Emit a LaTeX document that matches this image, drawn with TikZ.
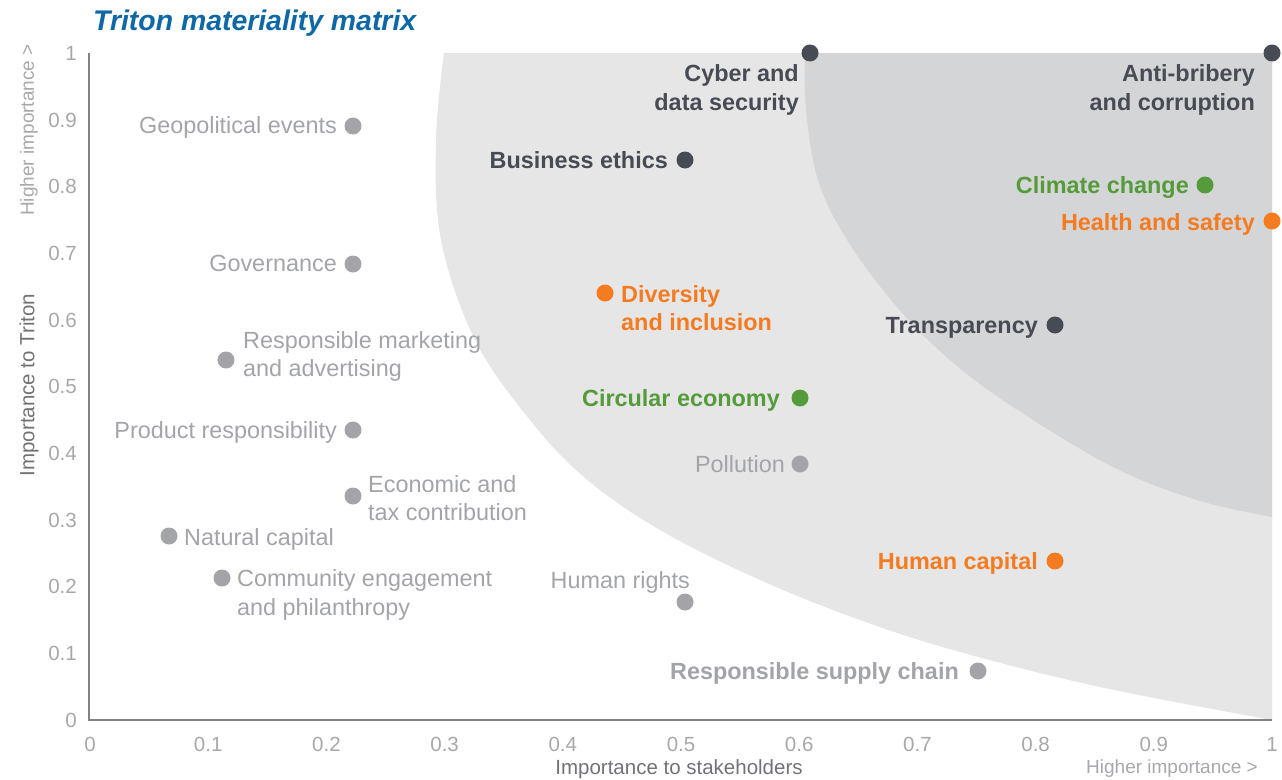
\documentclass[tikz,border=0pt]{standalone}
\usepackage{fontspec}
\setmainfont{Liberation Sans}
\definecolor{lightreg}{HTML}{E6E6E7}
\definecolor{darkreg}{HTML}{D4D5D7}
\definecolor{dk}{HTML}{474B54}
\definecolor{gr}{HTML}{A2A4A8}
\definecolor{org}{HTML}{F47B20}
\definecolor{grn}{HTML}{559B3B}
\definecolor{ttl}{HTML}{0D68A5}
\definecolor{axc}{HTML}{808286}
\definecolor{tickc}{HTML}{A6A8AB}
\definecolor{atc}{HTML}{707276}
\begin{document}
\begin{tikzpicture}[x=1pt,y=-1pt,
  dot/.style={circle,inner sep=0pt,minimum size=17pt,fill=#1},
  lbl/.style={inner sep=0pt,text height=16.8pt,text depth=0pt,text=#1,font=\fontsize{23.4}{28.5}\selectfont},
  lbb/.style={inner sep=0pt,text height=16.8pt,text depth=0pt,text=#1,font=\fontsize{23.4}{28.5}\selectfont\bfseries},
  tick/.style={inner sep=0pt,text height=14.7pt,text depth=0pt,text=tickc,font=\fontsize{20.5}{24}\selectfont},
  axtitle/.style={inner sep=0pt,text height=14.7pt,text depth=0pt,text=atc,font=\fontsize{20.5}{24}\selectfont},
  axhint/.style={inner sep=0pt,text height=13.6pt,text depth=0pt,text=tickc,font=\fontsize{19}{22}\selectfont},
  axisline/.style={draw=axc,line width=2pt}
]
\useasboundingbox (0,0) rectangle (1282,779);

% shaded regions
\fill[lightreg] plot[smooth,tension=0.6] coordinates {(444,53) (436,140) (441,240) (475,340) (530,420) (585,478) (660,530) (760,580) (860,620) (960,652) (1100,687) (1272,720)} -- (1272,53) -- cycle;
\fill[darkreg] plot[smooth,tension=0.6] coordinates {(805,53) (806,110) (818,180) (847,240) (897,307) (950,360) (1013,407) (1113,467) (1197,500) (1272,517)} -- (1272,53) -- cycle;

% axes
\coordinate (ytop) at (89,53);
\coordinate (orig) at (89,720);
\coordinate (xend) at (1272,720);
\draw[axisline] (ytop) -- (orig) -- (xend);

% ticks
\foreach \i/\t in {0/0,1/0.1,2/0.2,3/0.3,4/0.4,5/0.5,6/0.6,7/0.7,8/0.8,9/0.9,10/1}{
  \node[tick,anchor=east] (yt\i) at (77,{720-66.7*\i}) {\t};
  \node[tick] (xt\i) at ({90+118.2*\i},744) {\t};
}

% axis titles
\node[axtitle] (xtitle) at (679,767) {Importance to stakeholders};
\node[axhint,anchor=east] (xhint) at (1258,767) {Higher importance >};
\node[axtitle,rotate=90] (ytitle) at (27,385) {Importance to Triton};
\node[axhint,rotate=90] (yhint) at (27,130) {Higher importance >};

% title
\node[inner sep=0pt,text height=20.3pt,text depth=0pt,anchor=west,text=ttl,font=\fontsize{28.4}{32}\selectfont\bfseries\itshape] (title) at (93,20) {Triton materiality matrix};

% dots
\node[dot=dk] (cyber) at (810,53) {};
\node[dot=dk] (anti) at (1272,53) {};
\node[dot=gr] (geo) at (353,126) {};
\node[dot=dk] (bus) at (685,160) {};
\node[dot=grn] (clim) at (1205,185) {};
\node[dot=org] (health) at (1272,221) {};
\node[dot=gr] (gov) at (353,264) {};
\node[dot=org] (div) at (605,293) {};
\node[dot=dk] (trans) at (1055,325) {};
\node[dot=gr] (mkt) at (226,360) {};
\node[dot=grn] (circ) at (800,398) {};
\node[dot=gr] (prod) at (353,430) {};
\node[dot=gr] (poll) at (800,464) {};
\node[dot=gr] (econ) at (353,496) {};
\node[dot=gr] (nat) at (169,536) {};
\node[dot=org] (hcap) at (1055,561) {};
\node[dot=gr] (comm) at (222,578) {};
\node[dot=gr] (hrights) at (685,602) {};
\node[dot=gr] (supply) at (978,671) {};

% labels
\node[lbb=dk,anchor=east,align=right] (cyber-l) at (799,102) {Cyber and\\data security};
\node[lbb=dk,anchor=east,align=right] (anti-l) at (1255,102) {Anti-bribery\\and corruption};
\node[lbl=gr,anchor=east] (geo-l) at (337,125) {Geopolitical events};
\node[lbb=dk,anchor=east] (bus-l) at (668,160) {Business ethics};
\node[lbb=grn,anchor=east] (clim-l) at (1189,185) {Climate change};
\node[lbb=org,anchor=east] (health-l) at (1255,222) {Health and safety};
\node[lbl=gr,anchor=east] (gov-l) at (337,263) {Governance};
\node[lbb=org,anchor=west,align=left] (div-l) at (621,322.5) {Diversity\\and inclusion};
\node[lbb=dk,anchor=east] (trans-l) at (1038,325) {Transparency};
\node[lbl=gr,anchor=west,align=left] (mkt-l) at (243,368.5) {Responsible marketing\\and advertising};
\node[lbb=grn,anchor=east] (circ-l) at (780,398) {Circular economy};
\node[lbl=gr,anchor=east] (prod-l) at (337,430) {Product responsibility};
\node[lbl=gr,anchor=east] (poll-l) at (785,464) {Pollution};
\node[lbl=gr,anchor=west,align=left] (econ-l) at (368,512.5) {Economic and\\tax contribution};
\node[lbl=gr,anchor=west] (nat-l) at (184,537) {Natural capital};
\node[lbb=org,anchor=east] (hcap-l) at (1038,561) {Human capital};
\node[lbl=gr,anchor=west,align=left] (comm-l) at (237,607) {Community engagement\\and philanthropy};
\node[lbl=gr,anchor=east] (hrights-l) at (690,580) {Human rights};
\node[lbb=gr,anchor=east] (supply-l) at (959,671) {Responsible supply chain};
\end{tikzpicture}
\end{document}
